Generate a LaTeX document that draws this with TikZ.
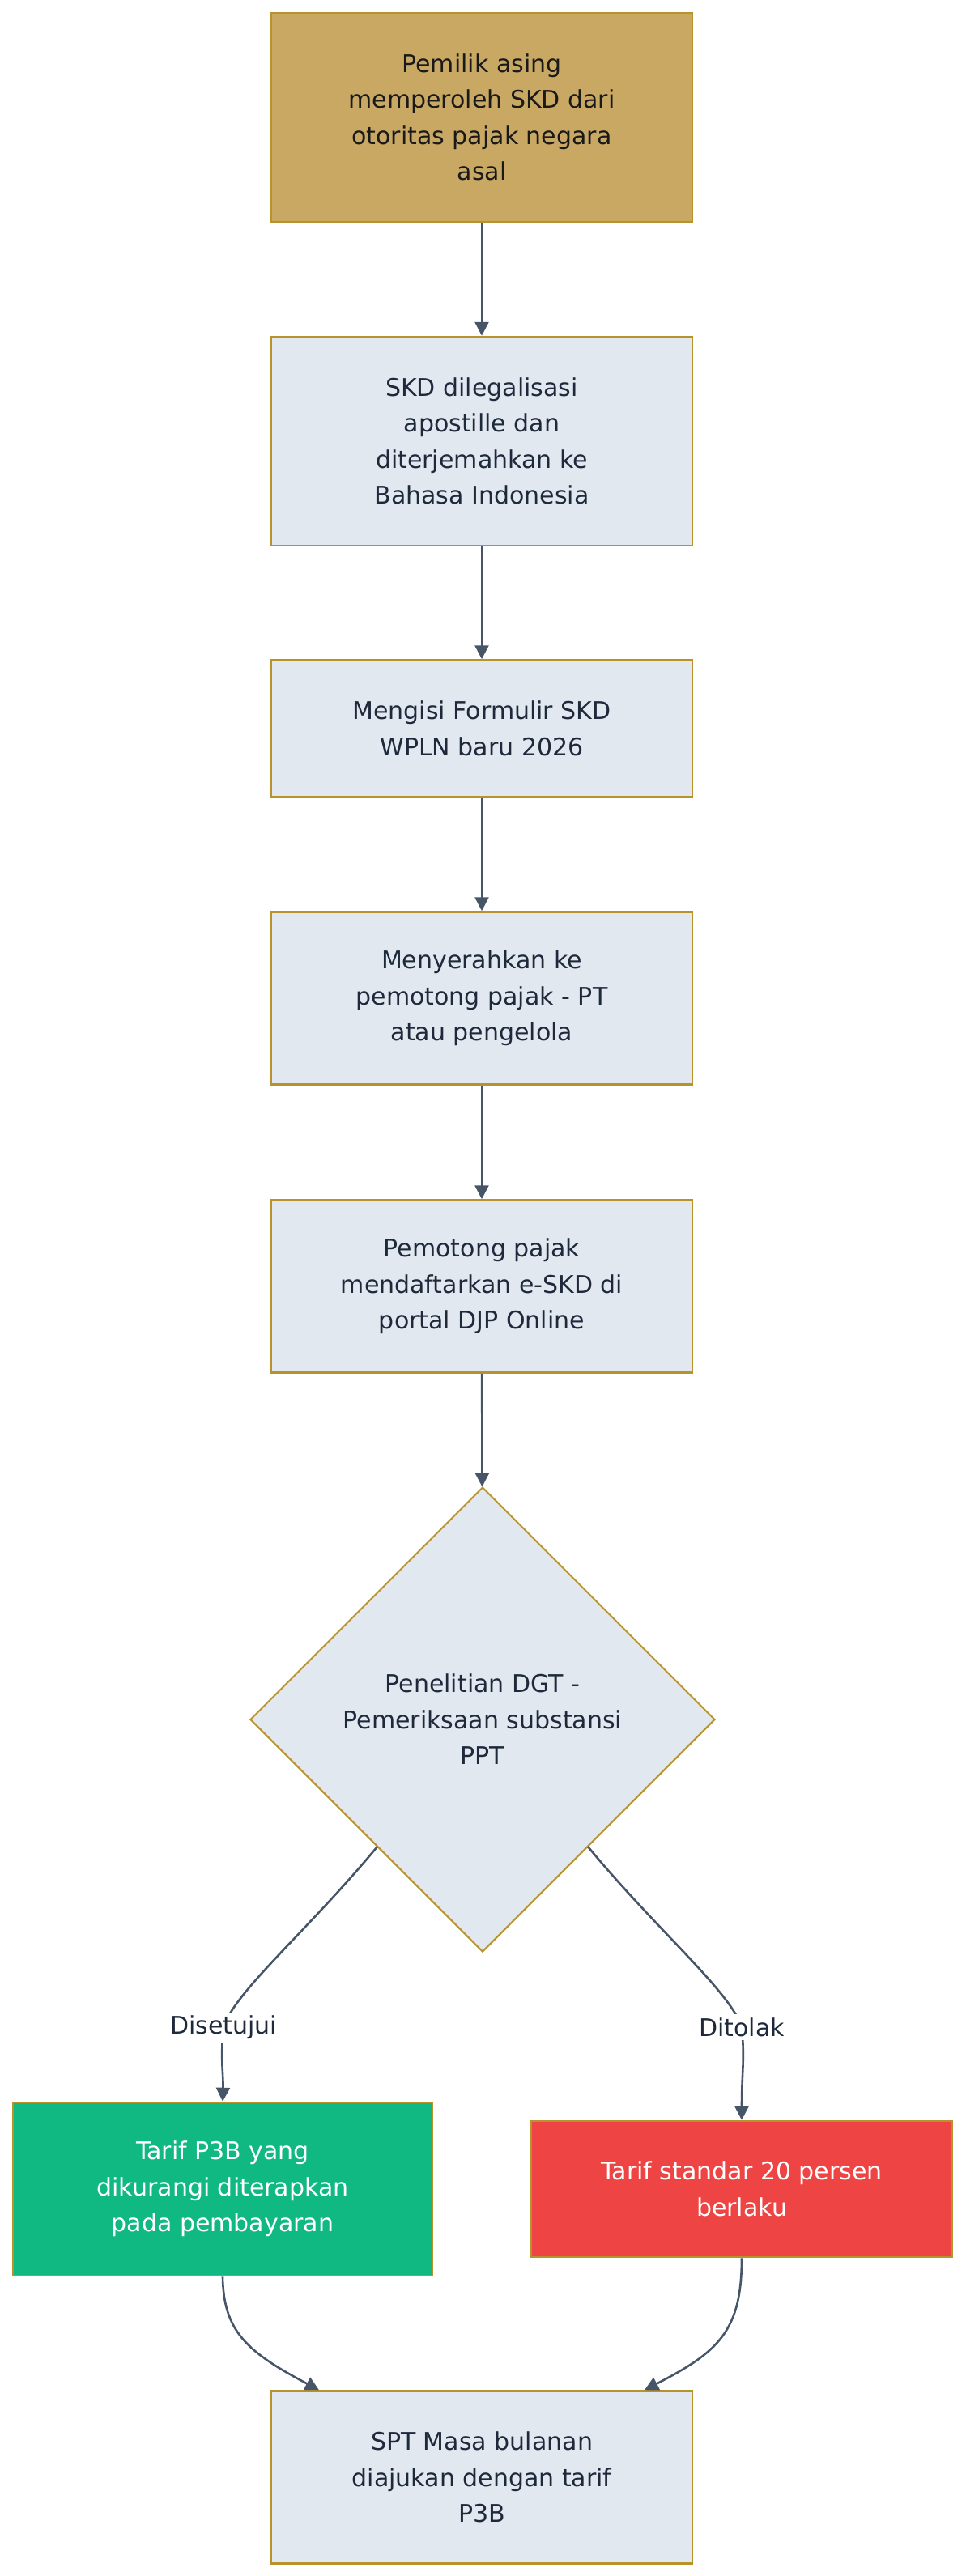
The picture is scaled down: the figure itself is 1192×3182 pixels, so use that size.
\documentclass[tikz,border=0pt]{standalone}
\usepackage{fontspec}
\setmainfont{DejaVu Sans}
\usetikzlibrary{shapes.geometric,arrows.meta}
\definecolor{edgecol}{HTML}{475569}
\definecolor{txt}{HTML}{1E293B}
\definecolor{boxfill}{HTML}{E2E8F0}
\definecolor{boxline}{HTML}{B8922A}
\definecolor{startfill}{HTML}{C9A863}
\definecolor{okfill}{HTML}{10B981}
\definecolor{nofill}{HTML}{EF4444}
\tikzset{
  stepbox/.style={rectangle, draw=boxline, line width=2.5pt, fill=boxfill,
    text=txt, align=center, minimum width=520pt, inner sep=0pt,
    font=\fontsize{30}{44.5}\selectfont},
  decide/.style={diamond, draw=boxline, line width=2pt, fill=boxfill,
    text=txt, align=center, minimum size=574pt, inner sep=0pt, shape aspect=1,
    font=\fontsize{30}{44.5}\selectfont},
  arr/.style={draw=edgecol, line width=2.6pt, -{Triangle[length=17pt,width=17pt]}},
  lbl/.style={fill=white, text=txt, inner sep=4pt, font=\fontsize{30}{44.5}\selectfont},
}
\begin{document}
\begin{tikzpicture}[x=1pt,y=-1pt]
\useasboundingbox (0,0) rectangle (1192,3182);
\fill[white] (0,0) rectangle (1192,3182);

\node[stepbox, fill=startfill, text=black!90, minimum height=258pt] (s1) at (595,145)
  {Pemilik asing\\memperoleh SKD dari\\otoritas pajak negara\\asal};
\node[stepbox, minimum height=258pt] (s2) at (595,545)
  {SKD dilegalisasi\\apostille dan\\diterjemahkan ke\\Bahasa Indonesia};
\node[stepbox, minimum height=169pt] (s3) at (595,900)
  {Mengisi Formulir SKD\\WPLN baru 2026};
\node[stepbox, minimum height=213pt] (s4) at (595,1233)
  {Menyerahkan ke\\pemotong pajak - PT\\atau pengelola};
\node[stepbox, minimum height=213pt] (s5) at (595,1589)
  {Pemotong pajak\\mendaftarkan e-SKD di\\portal DJP Online};
\node[decide] (dgt) at (596,2124)
  {Penelitian DGT -\\Pemeriksaan substansi\\PPT};
\node[stepbox, fill=okfill, text=white, minimum width=518pt, minimum height=214pt] (ok) at (275,2704)
  {Tarif P3B yang\\dikurangi diterapkan\\pada pembayaran};
\node[stepbox, fill=nofill, text=white, minimum height=168pt] (no) at (916,2704)
  {Tarif standar 20 persen\\berlaku};
\node[stepbox, minimum height=213pt] (spt) at (595,3060)
  {SPT Masa bulanan\\diajukan dengan tarif\\P3B};

\draw[arr] (s1) -- (s2);
\draw[arr] (s2) -- (s3);
\draw[arr] (s3) -- (s4);
\draw[arr] (s4) -- (s5);
\draw[arr] (s5) -- (dgt);

\coordinate (yes) at (276,2504);
\coordinate (rej) at (916,2504);
\coordinate (yesout) at (466,2281);
\coordinate (rejout) at (726,2281);
\draw[arr] (yesout) .. controls (380,2385) and (290,2460) .. (yes)
  .. controls (272,2545) and (276,2560) .. (ok.north);
\draw[arr] (rejout) .. controls (812,2385) and (902,2460) .. (rej)
  .. controls (920,2545) and (916,2560) .. (no.north);
\node[lbl] (yeslbl) at (yes) {Disetujui};
\node[lbl] (rejlbl) at (rej) {Ditolak};

\draw[arr] (ok.south) .. controls (276,2880) and (305,2905) .. (spt.north west -| 394,0);
\draw[arr] (no.south) .. controls (916,2880) and (887,2905) .. (spt.north east -| 796,0);
\end{tikzpicture}
\end{document}
